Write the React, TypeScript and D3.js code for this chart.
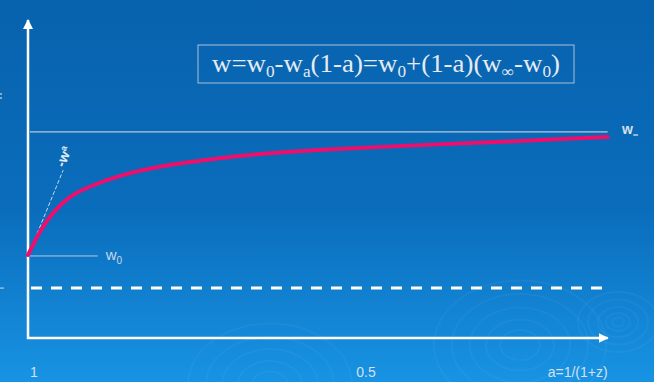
import React, { useEffect, useRef } from 'react';
import * as d3 from 'd3';

// scale factor a (x axis runs from 1 down towards 0)
const curveA = [1.0, 0.982, 0.962, 0.937, 0.911, 0.861, 0.812, 0.761, 0.711, 0.661, 0.61, 0.56, 0.44, 0.289, 0.127];
// w(a), in units of the plot height
const curveW = [0.261, 0.338, 0.398, 0.446, 0.474, 0.512, 0.536, 0.552, 0.566, 0.577, 0.585, 0.592, 0.604, 0.617, 0.632];

const w0 = 0.258;
const wInf = 0.648;
const wDashed = 0.157;
const aEnd = 0.127;
const slopeEnd = { a: 0.947, w: 0.528 };
const w0LineEnd = 0.895;
const tickValues = [1, 0.5];
const tickLabels = ['1', '0.5'];

const W = 654, H = 382;

const App = () => {
  const svgRef = useRef<SVGSVGElement>(null);

  useEffect(() => {
    const svg = d3.select(svgRef.current);
    svg.selectAll('*').remove();

    const x = d3.scaleLinear().domain([1, 0]).range([28, 692]);
    const y = d3.scaleLinear().domain([0, 1]).range([338, 20]);

    // background gradient
    const defs = svg.append('defs');
    const grad = defs.append('linearGradient').attr('id', 'bg').attr('x1', 0).attr('y1', 0).attr('x2', 0).attr('y2', 1);
    grad.append('stop').attr('offset', '0%').attr('stop-color', '#0862ad');
    grad.append('stop').attr('offset', '55%').attr('stop-color', '#0a6dbc');
    grad.append('stop').attr('offset', '100%').attr('stop-color', '#1893e3');
    defs.append('marker').attr('id', 'arrow').attr('viewBox', '0 0 10 10')
      .attr('refX', 9).attr('refY', 5).attr('markerWidth', 4).attr('markerHeight', 4)
      .attr('orient', 'auto')
      .append('path').attr('d', 'M0,0 L10,5 L0,10 z').attr('fill', '#ffffff');

    svg.append('rect').attr('width', W).attr('height', H).attr('fill', 'url(#bg)');

    // faint ripples
    const ripples = [
      { cx: 618, cy: 322, r: [6, 12, 20, 30, 40] },
      { cx: 520, cy: 345, r: [20, 34, 50, 68, 86] },
      { cx: 270, cy: 385, r: [18, 32, 48, 64, 82] },
    ];
    ripples.forEach(rp => {
      rp.r.forEach(r => {
        svg.append('ellipse').attr('cx', rp.cx).attr('cy', rp.cy)
          .attr('rx', r).attr('ry', r * 0.75)
          .attr('fill', 'none').attr('stroke', '#ffffff').attr('stroke-opacity', 0.04).attr('stroke-width', 2);
      });
    });

    // w_inf horizontal line
    svg.append('line').attr('x1', x(1) + 2).attr('x2', x(aEnd)).attr('y1', y(wInf)).attr('y2', y(wInf))
      .attr('stroke', '#b7c9dc').attr('stroke-width', 1.2);

    // dashed line
    svg.append('line').attr('x1', x(1) + 3).attr('x2', x(aEnd)).attr('y1', y(wDashed)).attr('y2', y(wDashed))
      .attr('stroke', '#ffffff').attr('stroke-width', 3).attr('stroke-dasharray', '11,9');

    // w0 line
    svg.append('line').attr('x1', x(1)).attr('x2', x(w0LineEnd)).attr('y1', y(w0)).attr('y2', y(w0))
      .attr('stroke', '#b7c9dc').attr('stroke-width', 1);

    // slope -w_a dashed line
    svg.append('line').attr('x1', x(1)).attr('y1', y(w0)).attr('x2', x(slopeEnd.a)).attr('y2', y(slopeEnd.w))
      .attr('stroke', '#c9d7e6').attr('stroke-width', 1).attr('stroke-dasharray', '4,2');

    // axes
    svg.append('line').attr('x1', x(1)).attr('x2', x(1)).attr('y1', y(0) + 1).attr('y2', 20)
      .attr('stroke', '#ffffff').attr('stroke-width', 2.5).attr('marker-end', 'url(#arrow)');
    svg.append('line').attr('x1', x(1) - 1).attr('x2', x(aEnd)).attr('y1', y(0)).attr('y2', y(0))
      .attr('stroke', '#ffffff').attr('stroke-width', 2.5).attr('marker-end', 'url(#arrow)');

    // cut-off marks on the left edge
    svg.append('line').attr('x1', 0).attr('x2', 4).attr('y1', y(wDashed)).attr('y2', y(wDashed))
      .attr('stroke', '#cfdbe8').attr('stroke-width', 1);
    svg.append('line').attr('x1', 1).attr('x2', 1).attr('y1', 93).attr('y2', 99)
      .attr('stroke', '#cfdbe8').attr('stroke-width', 1.2).attr('stroke-dasharray', '2,2');

    // the w(a) curve
    const pts: [number, number][] = curveA.map((a, i) => [a, curveW[i]]);
    const line = d3.line<[number, number]>()
      .x(d => x(d[0])).y(d => y(d[1]))
      .curve(d3.curveBasis);
    svg.append('path').attr('d', line(pts)).attr('fill', 'none')
      .attr('stroke', '#ec0f6b').attr('stroke-width', 4).attr('stroke-linecap', 'round');

    // tick labels
    const sans = 'Liberation Sans, Arial, sans-serif';
    tickValues.forEach((v, i) => {
      svg.append('text').attr('x', x(v) + 6).attr('y', 377).attr('text-anchor', 'middle')
        .attr('font-family', sans).attr('font-size', 14).attr('fill', '#d5e0ec').text(tickLabels[i]);
    });
    svg.append('text').attr('x', x(aEnd)).attr('y', 377).attr('text-anchor', 'end')
      .attr('font-family', sans).attr('font-size', 14).attr('fill', '#d5e0ec').text('a=1/(1+z)');

    // w0 label
    const w0Label = svg.append('text').attr('x', x(w0LineEnd) + 8).attr('y', y(w0) + 4)
      .attr('font-family', sans).attr('font-size', 15).attr('fill', '#c9d7e6');
    w0Label.append('tspan').text('w');
    w0Label.append('tspan').attr('font-size', 10).attr('dy', 4).text('0');

    // w_inf label
    const wInfLabel = svg.append('text').attr('x', 622).attr('y', y(wInf) + 2)
      .attr('font-family', sans).attr('font-size', 14).attr('font-weight', 'bold').attr('fill', '#d5e0ec');
    wInfLabel.append('tspan').text('w');
    wInfLabel.append('tspan').attr('font-size', 7).attr('dy', 3).text('∞');

    // -w_a label, rotated along slope line
    const waLabel = svg.append('text')
      .attr('transform', `translate(${x(slopeEnd.a) + 1},${y(slopeEnd.w) - 2}) rotate(-68)`)
      .attr('font-family', sans).attr('font-size', 14).attr('font-weight', 'bold').attr('fill', '#e2eaf3');
    waLabel.append('tspan').text('-w');
    waLabel.append('tspan').attr('font-size', 9).attr('dy', -5).text('a');

    // formula box
    svg.append('rect').attr('x', 198).attr('y', 45).attr('width', 376).attr('height', 38)
      .attr('fill', 'none').attr('stroke', '#a9bfd6').attr('stroke-width', 1);
    const f = svg.append('text').attr('x', 386).attr('y', 72).attr('text-anchor', 'middle')
      .attr('font-family', 'Liberation Serif, Times New Roman, serif').attr('font-size', 25).attr('fill', '#e6ebf2')
      .attr('textLength', 348).attr('lengthAdjust', 'spacingAndGlyphs');
    const parts: [string, boolean][] = [
      ['w=w', false], ['0', true], ['-w', false], ['a', true], ['(1-a)=w', false], ['0', true],
      ['+(1-a)(w', false], ['∞', true], ['-w', false], ['0', true], [')', false],
    ];
    parts.forEach(([t, sub], i) => {
      if (sub) {
        f.append('tspan').attr('font-size', 16).attr('dy', 5).text(t);
      } else {
        f.append('tspan').attr('dy', i === 0 ? 0 : -5).text(t);
      }
    });
  }, []);

  return (
    <svg ref={svgRef} width={W} height={H} style={{ position: 'absolute', left: 0, top: 0 }}></svg>
  );
};

export default App;
